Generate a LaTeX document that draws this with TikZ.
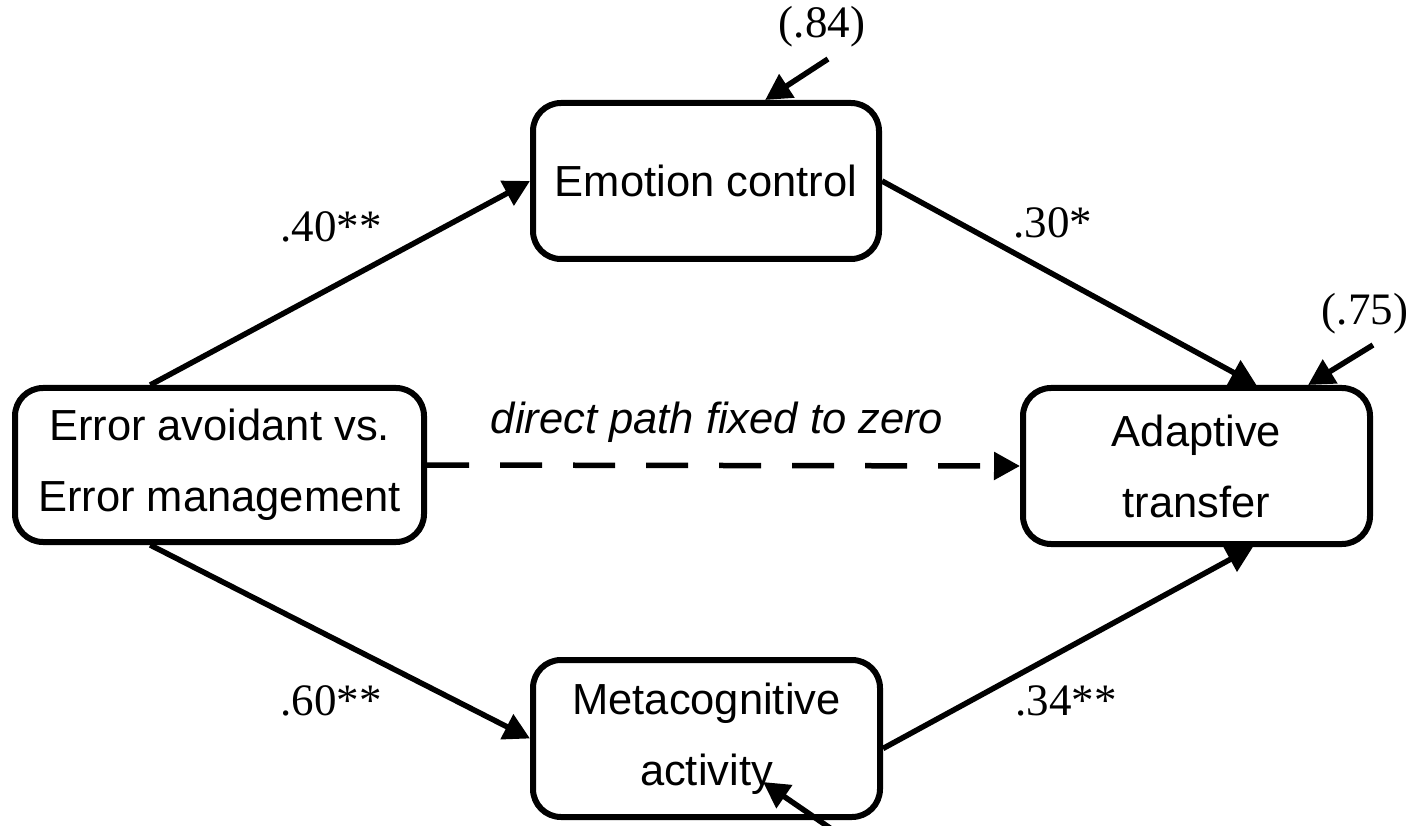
\documentclass[tikz,border=0pt]{standalone}
\usepackage{fontspec}
\setmainfont{Liberation Serif}
\newfontfamily\arialf{Liberation Sans}
\usetikzlibrary{arrows.meta,calc}
\begin{document}
\begin{tikzpicture}[x=1pt,y=-1pt,
  box/.style={draw, line width=6pt, rounded corners=28pt, align=center,
    font=\arialf\fontsize{43.5}{71}\selectfont, inner sep=0pt},
  conn/.style={line width=5.5pt, -{Triangle[length=26pt,width=27pt]}},
  lbl/.style={font=\fontsize{45}{50}\selectfont, anchor=base, inner sep=0pt}]
\useasboundingbox (0,0) rectangle (1409,826);

\node[box, minimum width=346pt, minimum height=156pt] (emo) at (706,181) {Emotion control};
\node[box, minimum width=409pt, minimum height=154pt] (err) at (219.5,465) {Error avoidant vs.\\Error management};
\node[box, minimum width=347pt, minimum height=156pt] (adapt) at (1196.5,466) {Adaptive\\transfer};
\node[box, minimum width=347pt, minimum height=157pt] (meta) at (706.5,738.5) {Metacognitive\\activity};

\draw[conn] ($(err.north west)!0.333!(err.north east)$) -- (emo.west);
\draw[conn] (emo.east) -- ($(adapt.north west)!0.67!(adapt.north east)$);
\draw[conn] ($(err.south west)!0.333!(err.south east)$) -- (meta.west);
\draw[conn] ($(meta.east)+(0,10)$) -- ($(adapt.south west)!0.66!(adapt.south east)$);
\draw[conn, dash pattern=on 42pt off 31pt] (err.east) -- (adapt.west);

\coordinate (c84) at (828,59);
\draw[conn] (c84) -- ($(emo.north west)!0.668!(emo.north east)$);
\coordinate (c75) at (1373,345);
\draw[conn] (c75) -- ($(adapt.north west)!0.816!(adapt.north east)$);
\coordinate (cm) at (830,828);
\coordinate (cmt) at (763,782);
\draw[conn] (cm) -- (cmt);

\node[lbl] (l40) at (331,242) {.40**};
\node[lbl] (l30) at (1053,238) {.30*};
\node[lbl] (l60) at (331,715) {.60**};
\node[lbl] (l34) at (1066,715) {.34**};
\node[lbl] (l84) at (822,38) {(.84)};
\node[lbl] (l75) at (1365,325) {(.75)};
\node[font=\arialf\itshape\fontsize{43.5}{50}\selectfont, anchor=base, inner sep=0pt] (dl) at (717,433) {direct path fixed to zero};
\end{tikzpicture}
\end{document}
